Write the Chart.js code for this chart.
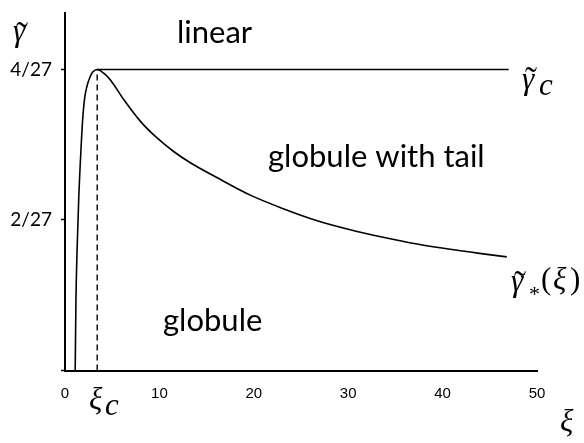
<!DOCTYPE html>
<html><head><meta charset="utf-8">
<script src="https://cdn.jsdelivr.net/npm/chart.js@4/dist/chart.umd.min.js"></script>
<style>html,body{margin:0;padding:0;background:#fff}</style>
</head><body>
<canvas id="c" width="584" height="443"></canvas>
<script>
// ξ values and γ̃*(ξ) values (in units of 1/27)
const curveXi = [1.08, 1.16, 1.28, 1.45, 1.69, 1.87, 2.06, 2.31, 2.65, 2.96, 3.41,
  4.1, 4.81, 6.22, 7.99, 9.75, 11.51, 13.28, 16.14, 19.63, 23.12, 26.72, 30.21, 33.7, 37.3, 40.8, 44.3, 46.8];
const curveGamma27 = [0, 0.94, 1.6, 2.27, 2.93, 3.33, 3.6, 3.77, 3.9, 3.97, 4.0,
  3.95, 3.86, 3.6, 3.31, 3.09, 2.91, 2.76, 2.56, 2.33, 2.15, 1.99, 1.87, 1.77, 1.68, 1.61, 1.55, 1.51];
// critical point and critical line γ̃c = 4/27
const xiC = 3.41;
const gammaC27 = 4;
const gammaCLineXi = [3.41, 47.0];
// tick labels
const xTickValues = [0, 10, 20, 30, 40, 50];
const yTickValues = [0, 2, 4];
const yTickLabels = ['', '2/27', '4/27'];

const curvePts = curveXi.map((x, i) => ({x, y: curveGamma27[i]}));
const cLinePts = gammaCLineXi.map(x => ({x, y: gammaC27}));
const dashPts = [{x: xiC, y: 0}, {x: xiC, y: gammaC27}];

const SERIF_IT = 'italic 31px "Liberation Serif"';
const TILDE = '36px "Liberation Serif"';
function gammaTilde(c, x, base, tx, tbase) {
  c.font = SERIF_IT;
  c.fillText('\u03B3', x, base);
  c.font = TILDE;
  c.fillText('\u02DC', tx, tbase);
}
const labelPlugin = {
  id: 'labels',
  afterDraw(chart) {
    const c = chart.ctx;
    c.save();
    c.fillStyle = '#000';
    c.textBaseline = 'alphabetic';
    c.textAlign = 'left';
    // region labels
    c.font = '31px Lato';
    c.fillText('linear', 177, 43);
    c.fillText('globule with tail', 268, 167);
    c.fillText('globule', 163, 331);
    // math labels
    gammaTilde(c, 13, 41, 16, 47);
    gammaTilde(c, 522, 89, 525, 92);
    c.font = SERIF_IT;
    c.fillText('c', 539, 95);
    gammaTilde(c, 511, 291, 514, 296);
    c.font = '22px "Liberation Serif"';
    c.fillText('*', 529, 301);
    c.font = '31px "Liberation Serif"';
    c.fillText('(', 541, 289);
    c.font = SERIF_IT;
    c.fillText('\u03BE', 553, 289);
    c.font = '31px "Liberation Serif"';
    c.fillText(')', 570, 289);
    c.font = SERIF_IT;
    c.fillText('\u03BE', 89, 409);
    c.fillText('c', 105, 415);
    c.fillText('\u03BE', 560, 431);
    c.restore();
  }
};

new Chart(document.getElementById('c'), {
  type: 'scatter',
  data: {
    datasets: [
      {data: curvePts, showLine: true, borderColor: '#000', borderWidth: 1.6, pointRadius: 0, cubicInterpolationMode: 'monotone', fill: false},
      {data: cLinePts, showLine: true, borderColor: '#000', borderWidth: 1.6, pointRadius: 0, fill: false},
      {data: dashPts, showLine: true, borderColor: '#000', borderWidth: 1.4, borderDash: [6, 4], pointRadius: 0, fill: false}
    ]
  },
  options: {
    responsive: false,
    animation: false,
    devicePixelRatio: 1,
    layout: {padding: {top: 13, right: 47, left: 0, bottom: 0}},
    plugins: {legend: {display: false}, tooltip: {enabled: false}},
    scales: {
      x: {
        type: 'linear', min: 0, max: 50,
        afterBuildTicks: s => { s.ticks = xTickValues.map(v => ({value: v})); },
        afterFit: s => { s.height = 72.5; s.paddingLeft = 0; s.paddingRight = 0; },
        ticks: {color: '#000', font: {family: '"Liberation Sans"', size: 15}, padding: 14},
        grid: {drawOnChartArea: false, drawTicks: false},
        border: {color: '#000', width: 2}
      },
      y: {
        type: 'linear', min: 0, max: 4.75,
        afterBuildTicks: s => { s.ticks = yTickValues.map(v => ({value: v})); },
        afterFit: s => { s.width = 65; s.paddingTop = 0; s.paddingBottom = 0; },
        ticks: {color: '#000', font: {family: 'Lato', size: 19}, padding: 9,
          callback: v => yTickLabels[yTickValues.indexOf(v)]},
        grid: {drawOnChartArea: false, drawTicks: true, tickLength: 4, color: '#000', tickWidth: 1.5},
        border: {color: '#000', width: 2}
      }
    }
  },
  plugins: [labelPlugin]
});
</script>
</body></html>
